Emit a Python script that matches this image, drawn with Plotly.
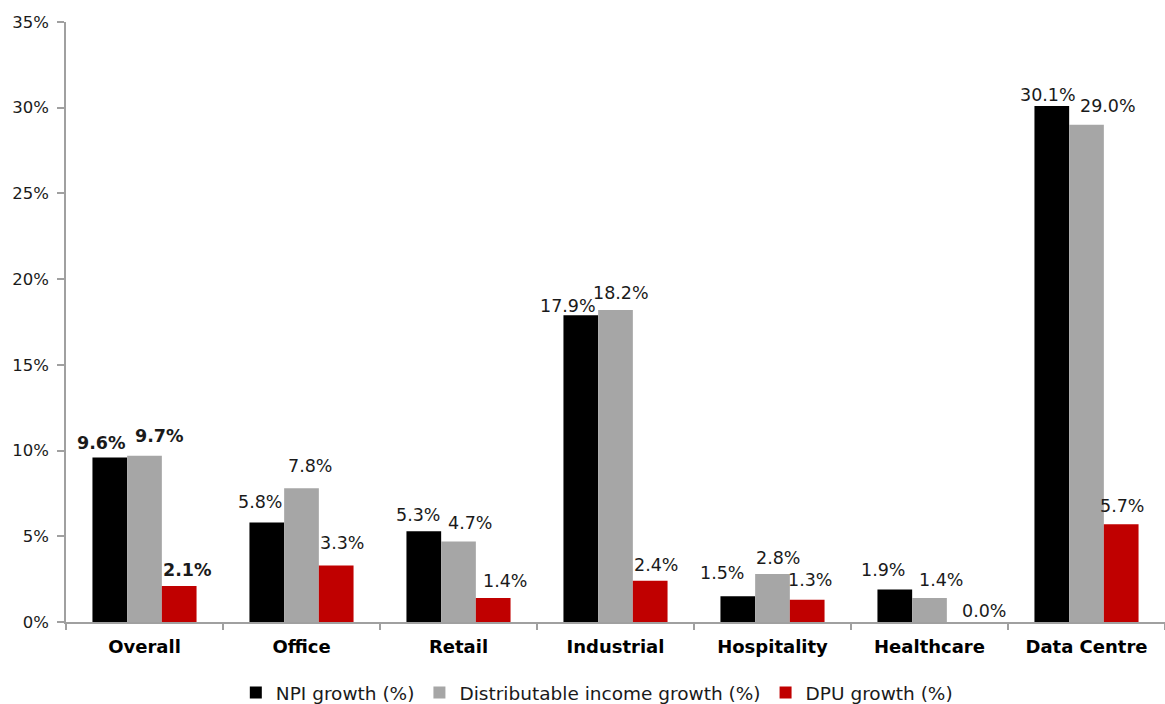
import plotly.graph_objects as go

categories = ["Overall", "Office", "Retail", "Industrial", "Hospitality", "Healthcare", "Data Centre"]
npi_growth = [9.6, 5.8, 5.3, 17.9, 1.5, 1.9, 30.1]
dist_income_growth = [9.7, 7.8, 4.7, 18.2, 2.8, 1.4, 29.0]
dpu_growth = [2.1, 3.3, 1.4, 2.4, 1.3, 0.0, 5.7]
series_names = ["NPI growth (%)", "Distributable income growth (%)", "DPU growth (%)"]
y_ticks = [0, 5, 10, 15, 20, 25, 30, 35]

colors = ["#000000", "#A6A6A6", "#C00000"]
FONT = "DejaVu Sans"

# label placement tweaks (pixels) to mimic the reference layout
bar_offsets = [-34.7, 0, 34.7]
label_dx = [
    [-8, -7, -6, -13, -16, -12, -4],
    [15, 8, 11, 5, 5, 11, 21],
    [8, 6, 12, 6, 3, 20, 1],
]
label_gap = [
    [7, 14, 9, 2, 16, 12, 4],
    [13, 15, 11, 10, 9, 11, 12],
    [9, 15, 10, 9, 13, 4, 11],
]

all_series = [npi_growth, dist_income_growth, dpu_growth]

fig = go.Figure()
for name, vals, col in zip(series_names, all_series, colors):
    fig.add_trace(go.Bar(
        x=categories, y=vals, name=name,
        marker=dict(color=col, line=dict(width=0)),
    ))

annotations = []
for s, vals in enumerate(all_series):
    for i, v in enumerate(vals):
        txt = f"{v:.1f}%"
        if categories[i] == "Overall":
            txt = f"<b>{txt}</b>"
        annotations.append(dict(
            x=categories[i], y=v, xref="x", yref="y",
            text=txt, showarrow=False,
            xanchor="center", yanchor="bottom",
            xshift=bar_offsets[s] + label_dx[s][i],
            yshift=label_gap[s][i] - 5,
            font=dict(family=FONT, size=17.5, color="#1a1a1a"),
        ))

fig.update_layout(
    width=1165, height=704,
    margin=dict(l=66, r=0, t=22, b=82),
    paper_bgcolor="white", plot_bgcolor="white",
    barmode="group", bargap=0.337, bargroupgap=0,
    font=dict(family=FONT, size=16, color="#1a1a1a"),
    annotations=annotations,
    showlegend=True,
    legend=dict(
        orientation="h", x=0.483, xanchor="center",
        yref="container", y=0.0156, yanchor="middle",
        font=dict(family=FONT, size=18.5, color="#1a1a1a"),
        itemwidth=30, traceorder="normal", tracegroupgap=0,
    ),
)
fig.update_xaxes(
    showline=True, linecolor="#A0A0A0", linewidth=1.5,
    ticks="outside", tickson="boundaries", ticklen=6, tickcolor="#A0A0A0", tickwidth=1.5,
    tickfont=dict(family=FONT, size=18, color="#000000"),
    tickprefix="<b>", ticksuffix="</b>",
    ticklabelstandoff=8,
    showgrid=False, automargin=False,
)
fig.update_yaxes(
    range=[0, 35], tickvals=y_ticks, ticktext=[f"{t}%" for t in y_ticks],
    showline=True, linecolor="#A0A0A0", linewidth=1.5,
    ticks="outside", ticklen=7, tickcolor="#A0A0A0", tickwidth=1.5,
    tickfont=dict(family=FONT, size=16.5, color="#1a1a1a"),
    ticklabelstandoff=5,
    showgrid=False, zeroline=False, automargin=False,
)

fig.write_html("out.html")
